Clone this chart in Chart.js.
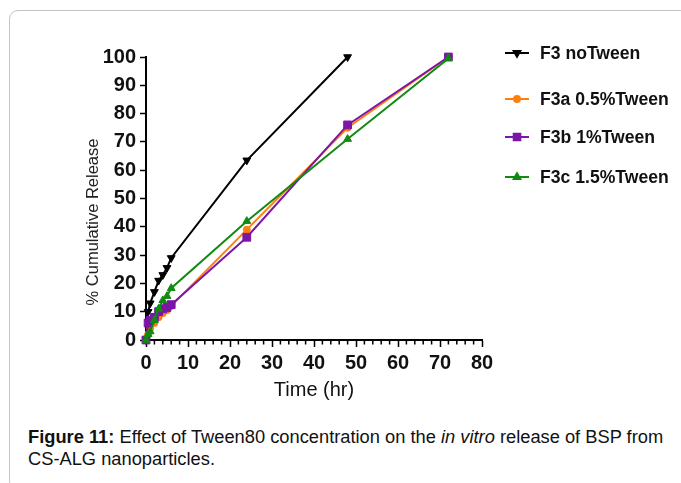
<!DOCTYPE html>
<html><head><meta charset="utf-8">
<script src="https://cdn.jsdelivr.net/npm/chart.js@4.4.0/dist/chart.umd.min.js"></script>
<style>
html,body{margin:0;padding:0;background:#fff;}
body{width:681px;height:483px;position:relative;overflow:hidden;font-family:"Liberation Sans",Arial,sans-serif;}
#card{position:absolute;left:9px;top:10px;width:680px;height:480px;border:1px solid #c4c4c4;border-radius:9px;box-sizing:border-box;}
#wrap{position:absolute;left:0;top:0;width:681px;height:420px;}
#cap{position:absolute;left:28px;top:426px;width:660px;font-size:18.3px;line-height:22px;color:#111;white-space:nowrap;}
</style></head>
<body>
<div id="card"></div>
<div id="wrap"><canvas id="c" width="681" height="420"></canvas></div>
<div id="cap"><b>Figure 11:</b> Effect of Tween80 concentration on the <i>in vitro</i> release of BSP from<br>CS-ALG nanoparticles.</div>
<script>
// Time points (hr)
const times = [0, 0.5, 1, 2, 3, 4, 5, 6, 24, 48, 72];
// Series names
const seriesNames = ["F3 noTween", "F3a 0.5%Tween", "F3b 1%Tween", "F3c 1.5%Tween"];
// % cumulative release
const f3NoTween   = [0, 10, 13, 17, 21, 23, 25.5, 29, 63.5, 100];
const f3aTween05  = [0, 2, 4, 6, 8, 9.5, 10.5, 12, 39, 75, 100];
const f3bTween1   = [0, 6, 7, 8, 10, 11, 11.5, 12.5, 36.3, 76, 100];
const f3cTween15  = [0, 2, 3, 7, 11, 14, 15.5, 18.3, 42, 71, 99.5];
// Axis ticks
const xTicks = [0, 10, 20, 30, 40, 50, 60, 70, 80];
const yTicks = [0, 10, 20, 30, 40, 50, 60, 70, 80, 90, 100];
const yTitle = "% Cumulative Release";

const colors = ["#000000", "#ff7f0e", "#7b16a6", "#118a11"];
const styles = [
  {pointStyle: "triangle", rotation: 180, radius: 4.5},
  {pointStyle: "circle", rotation: 0, radius: 3.5},
  {pointStyle: "rect", rotation: 0, radius: 5.5},
  {pointStyle: "triangle", rotation: 0, radius: 4.5}
];
const allSeries = [f3NoTween, f3aTween05, f3bTween1, f3cTween15];
const drawOrder = [3, 2, 1, 0];

const datasets = allSeries.map((vals, i) => ({
  label: seriesNames[i],
  data: vals.map((v, k) => ({x: times[k], y: v})),
  borderColor: colors[i],
  backgroundColor: colors[i],
  borderWidth: 2,
  pointStyle: styles[i].pointStyle,
  rotation: styles[i].rotation,
  pointRadius: styles[i].radius,
  pointHoverRadius: styles[i].radius,
  pointBorderWidth: 1,
  tension: 0,
  clip: false,
  order: drawOrder[i]
}));

const FONT = "'Liberation Sans', Arial, sans-serif";

const minorTicks = {
  id: "minorTicks",
  afterDraw(chart) {
    const xs = chart.scales.x;
    const ctx = chart.ctx;
    ctx.save();
    ctx.strokeStyle = "#000";
    ctx.lineWidth = 1.5;
    for (let v = 0; v <= 80; v += 2) {
      if (v % 10 === 0) continue;
      const px = xs.getPixelForValue(v);
      ctx.beginPath();
      ctx.moveTo(px, xs.top);
      ctx.lineTo(px, xs.top + 4.5);
      ctx.stroke();
    }
    ctx.restore();
  }
};

const yTitlePlugin = {
  id: "yTitlePlugin",
  afterDraw(chart) {
    const ctx = chart.ctx;
    ctx.save();
    ctx.translate(93, 222);
    ctx.rotate(-Math.PI / 2);
    ctx.fillStyle = "#222";
    ctx.font = "16.5px " + FONT;
    ctx.textAlign = "center";
    ctx.textBaseline = "middle";
    ctx.fillText(yTitle, 0, 0);
    ctx.restore();
  }
};

const legendPos = [53, 99, 137, 177];
const customLegend = {
  id: "customLegend",
  afterDraw(chart) {
    const ctx = chart.ctx;
    ctx.save();
    chart.data.datasets.forEach((ds, i) => {
      const y = legendPos[i];
      ctx.strokeStyle = ds.borderColor;
      ctx.lineWidth = 2;
      ctx.beginPath();
      ctx.moveTo(505, y);
      ctx.lineTo(529, y);
      ctx.stroke();
      ctx.fillStyle = ds.backgroundColor;
      Chart.helpers.drawPoint(ctx, {
        pointStyle: ds.pointStyle,
        rotation: ds.rotation,
        radius: ds.pointRadius * 0.85,
        borderWidth: 1
      }, 517, y);
      ctx.fillStyle = "#111";
      ctx.font = "bold 17.6px " + FONT;
      ctx.textAlign = "left";
      ctx.textBaseline = "middle";
      ctx.fillText(ds.label, 540, y + 1);
    });
    ctx.restore();
  }
};

new Chart(document.getElementById("c"), {
  type: "line",
  data: {datasets},
  options: {
    responsive: false,
    animation: false,
    layout: {padding: {top: 57, right: 199, left: 0, bottom: 0}},
    plugins: {legend: {display: false}, tooltip: {enabled: false}},
    scales: {
      x: {
        type: "linear",
        min: 0, max: 80,
        afterBuildTicks: s => { s.ticks = xTicks.map(v => ({value: v})); },
        afterFit: s => { s.height = 80; },
        border: {display: true, color: "#000", width: 2},
        grid: {display: true, drawOnChartArea: false, drawTicks: true, tickLength: 7, tickColor: "#000", tickWidth: 1.5},
        ticks: {color: "#111", font: {family: FONT, size: 20, weight: "bold"}, padding: 4, maxRotation: 0},
        title: {display: true, text: "Time (hr)", color: "#111", font: {family: FONT, size: 20}, padding: {top: 0, bottom: 18}}
      },
      y: {
        type: "linear",
        min: 0, max: 100,
        afterBuildTicks: s => { s.ticks = yTicks.map(v => ({value: v})); },
        afterFit: s => { s.width = 146; },
        border: {display: true, color: "#000", width: 2},
        grid: {display: true, drawOnChartArea: false, drawTicks: true, tickLength: 6, tickColor: "#000", tickWidth: 1.5},
        ticks: {color: "#111", font: {family: FONT, size: 20, weight: "bold"}, padding: 4},
        title: {display: false}
      }
    }
  },
  plugins: [minorTicks, customLegend, yTitlePlugin]
});
</script>
</body></html>
